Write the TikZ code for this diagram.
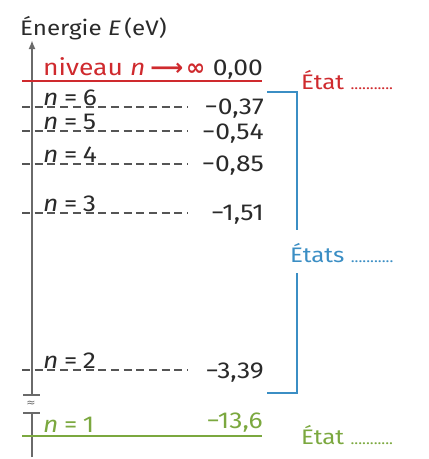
\documentclass[tikz,border=0pt]{standalone}
\usepackage{fontspec}
\setmainfont{Fira Sans}[FakeStretch=1.15]
\newfontfamily\symfont{DejaVu Sans}
\usetikzlibrary{arrows.meta}
\definecolor{cred}{HTML}{CF2A2E}
\definecolor{cblue}{HTML}{3B8EC4}
\definecolor{cgreen}{HTML}{7BA83F}
\definecolor{caxis}{HTML}{6A6A6A}
\definecolor{cdash}{HTML}{555555}
\definecolor{ctext}{HTML}{2A2A2A}
\newcommand{\eqsp}{\hspace{0.24em}}
\tikzset{
  txt/.style={font=\fontsize{23}{26}\selectfont, text=ctext, inner sep=0pt},
  lvl/.style={txt, anchor=base west},
  val/.style={txt, anchor=base east},
  dashlvl/.style={draw=cdash, line width=2.6pt, dash pattern=on 8pt off 4.7pt},
  axisline/.style={draw=caxis, line width=2.2pt},
}
\begin{document}
\begin{tikzpicture}[x=1pt,y=-1pt]
\useasboundingbox (0,0) rectangle (429,459);
% title
\node[txt, anchor=base west, font=\fontsize{21}{26}\selectfont] (title) at (20,35) {Énergie \textit{E}\,(eV)};
% axis
\coordinate (ax0) at (32,457);
\coordinate (axb1) at (32,413);
\coordinate (axb2) at (32,395);
\coordinate (axtop) at (32,40);
\draw[axisline] (ax0) -- (axb1);
\draw[axisline, -{Latex[length=9pt,width=7pt]}] (axb2) -- (axtop);
\draw[draw=caxis, line width=1.6pt] (23,395) -- (40,395) (23,413) -- (40,413);
\node[txt, font=\fontsize{11}{11}\selectfont, text=caxis] (approx) at (31,404) {\symfont ≈};
% infinity level
\coordinate (r0) at (22,81);
\coordinate (r1) at (262,81);
\draw[draw=cred, line width=2.2pt] (r0) -- (r1);
\node[lvl, text=cred] (ninf) at (43,75) {niveau \textit{n}\hspace{0.22em}{\symfont\bfseries ⟶}\hspace{0.12em}{\symfont\bfseries ∞}};
\node[val] (v0) at (263,75) {0,00};
% dashed levels
\foreach \nm/\y/\v/\vy in {6/107/{0,37}/114, 5/131/{0,54}/139, 4/164/{0,85}/171, 3/213/{1,51}/220, 2/370/{3,39}/378}{
  \coordinate (d\nm a) at (22,\y);
  \coordinate (d\nm b) at (188,\y);
  \draw[dashlvl] (d\nm a) -- (d\nm b);
  \node[lvl] (n\nm) at (43,\y-2) {\textit{n}\eqsp=\eqsp\nm};
  \node[val] (v\nm) at (264,\vy) {−\v};
}
% ground level
\coordinate (g0) at (22,436);
\coordinate (g1) at (262,436);
\draw[draw=cgreen, line width=2.2pt] (g0) -- (g1);
\node[lvl, text=cgreen] (n1) at (43,432) {\textit{n}\eqsp=\eqsp1};
\node[val, text=cgreen] (v1) at (263,428) {−13,6};
% bracket
\coordinate (bt0) at (267,92);
\coordinate (bt1) at (297,92);
\coordinate (bm0) at (297,230);
\coordinate (bm1) at (297,273);
\coordinate (bb1) at (297,393);
\coordinate (bb0) at (267,393);
\draw[draw=cblue, line width=2.2pt] (bt0) -- (bt1) -- (bm0);
\draw[draw=cblue, line width=2.2pt] (bm1) -- (bb1) -- (bb0);
% state labels
\node[lvl, text=cred, font=\fontsize{21}{24}\selectfont] (s1) at (301,89) {État {\fontsize{14}{14}\selectfont ...........}};
\node[lvl, text=cblue, font=\fontsize{21}{24}\selectfont] (s2) at (290,262) {États {\fontsize{14}{14}\selectfont ...........}};
\node[lvl, text=cgreen, font=\fontsize{21}{24}\selectfont] (s3) at (301,444) {État {\fontsize{14}{14}\selectfont ...........}};
\end{tikzpicture}
\end{document}
